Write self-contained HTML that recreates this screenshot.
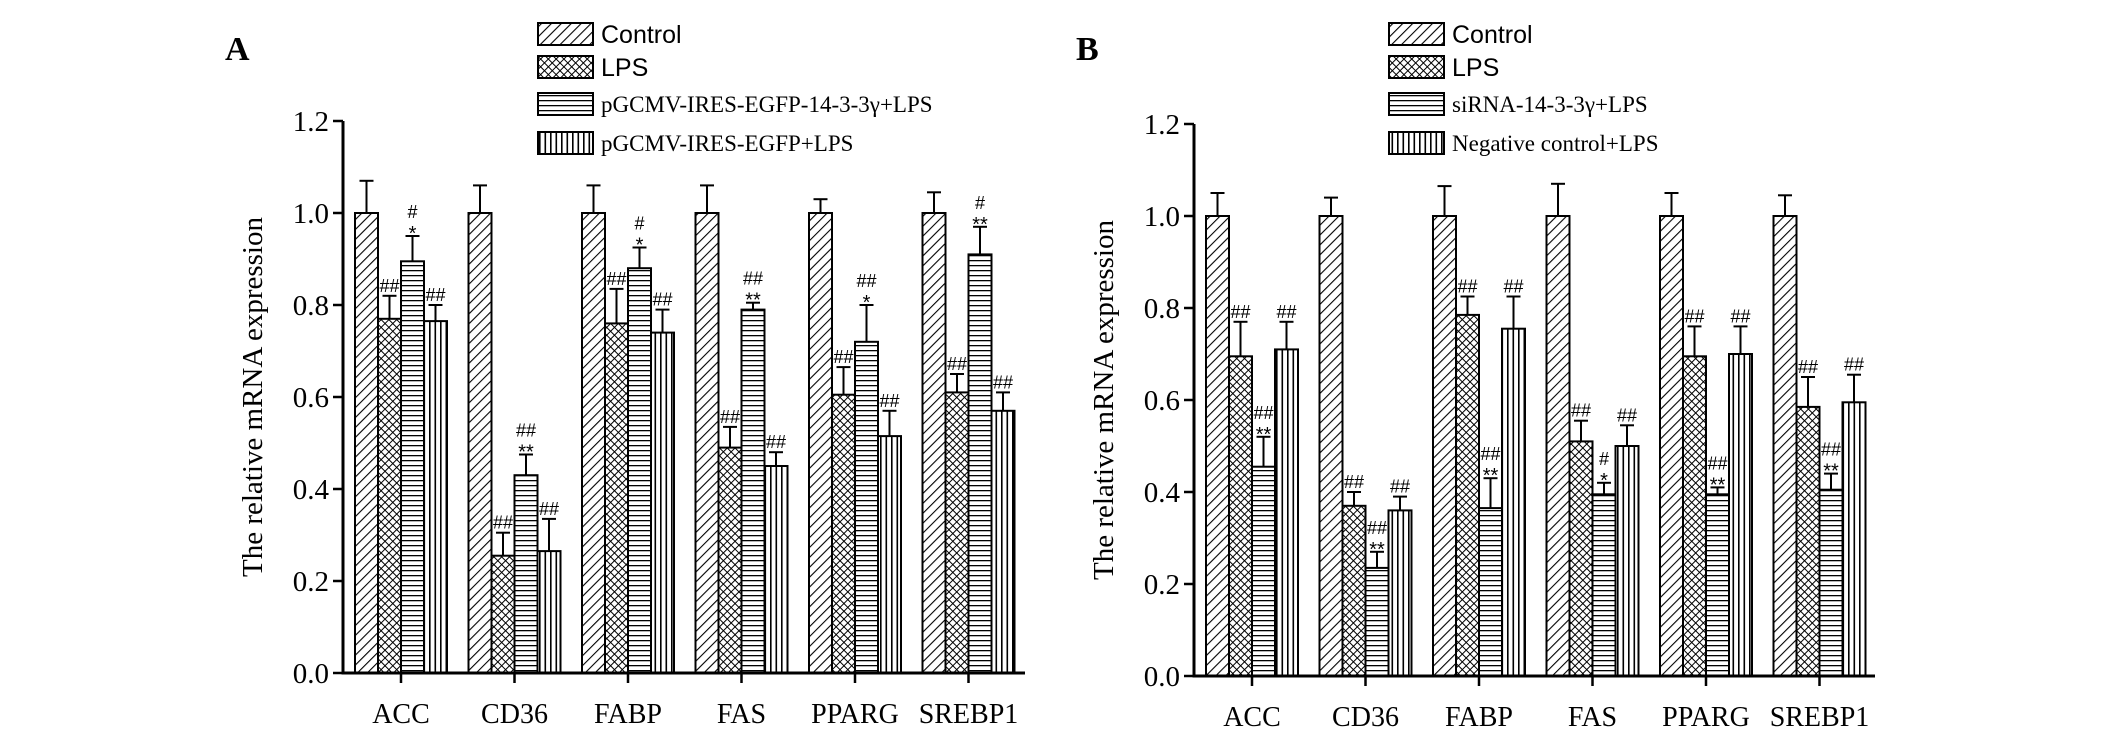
<!DOCTYPE html>
<html><head><meta charset="utf-8"><style>
body{margin:0;background:#fff}
svg{display:block}
.t{font-family:"Liberation Serif",serif;fill:#000}
.s{font-family:"Liberation Sans",sans-serif;fill:#000}
</style></head><body>
<svg id="fig" width="2126" height="731" viewBox="0 0 2126 731" xmlns="http://www.w3.org/2000/svg">
<defs>
<pattern id="p0" patternUnits="userSpaceOnUse" width="7" height="7" patternTransform="rotate(45)"><rect width="7" height="7" fill="#fff"/><line x1="0" y1="0" x2="0" y2="7" stroke="#000" stroke-width="2.2"/></pattern>
<pattern id="p1" patternUnits="userSpaceOnUse" width="5.5" height="5.5" patternTransform="rotate(45)"><rect width="5.5" height="5.5" fill="#fff"/><line x1="0" y1="0" x2="0" y2="5.5" stroke="#000" stroke-width="2"/><line x1="0" y1="0" x2="5.5" y2="0" stroke="#000" stroke-width="2"/></pattern>
<pattern id="p2" patternUnits="userSpaceOnUse" width="5" height="5"><rect width="5" height="5" fill="#fff"/><line x1="0" y1="0.5" x2="5" y2="0.5" stroke="#000" stroke-width="1.6"/></pattern>
<pattern id="p3" patternUnits="userSpaceOnUse" width="5.5" height="5"><rect width="5.5" height="5" fill="#fff"/><line x1="0.8" y1="0" x2="0.8" y2="5" stroke="#000" stroke-width="1.6"/></pattern>
</defs>
</svg>
<script>
const categories = ["ACC","CD36","FABP","FAS","PPARG","SREBP1"];
const yTicks = [0.0,0.2,0.4,0.6,0.8,1.0,1.2];
const legendA = ["Control","LPS","pGCMV-IRES-EGFP-14-3-3γ+LPS","pGCMV-IRES-EGFP+LPS"];
const legendB = ["Control","LPS","siRNA-14-3-3γ+LPS","Negative control+LPS"];
const aControl = [1.0,1.0,1.0,1.0,1.0,1.0];
const aControlErr = [0.07,0.06,0.06,0.06,0.03,0.045];
const aLPS = [0.77,0.255,0.76,0.49,0.605,0.61];
const aLPSErr = [0.05,0.05,0.075,0.045,0.06,0.04];
const aOver = [0.895,0.43,0.88,0.79,0.72,0.91];
const aOverErr = [0.055,0.045,0.045,0.015,0.08,0.06];
const aVec = [0.765,0.265,0.74,0.45,0.515,0.57];
const aVecErr = [0.035,0.07,0.05,0.03,0.055,0.04];
const aOverMark = [["#","*"],["##","**"],["#","*"],["##","**"],["##","*"],["#","**"]];
const bControl = [1.0,1.0,1.0,1.0,1.0,1.0];
const bControlErr = [0.05,0.04,0.065,0.07,0.05,0.045];
const bLPS = [0.695,0.37,0.785,0.51,0.695,0.585];
const bLPSErr = [0.075,0.03,0.04,0.045,0.065,0.065];
const bSi = [0.455,0.235,0.365,0.395,0.395,0.405];
const bSiErr = [0.065,0.035,0.065,0.025,0.015,0.035];
const bNC = [0.71,0.36,0.755,0.5,0.7,0.595];
const bNCErr = [0.06,0.03,0.07,0.045,0.06,0.06];
const bSiMark = [["##","**"],["##","**"],["##","**"],["#","*"],["##","**"],["##","**"]];

const NS="http://www.w3.org/2000/svg";
const svg=document.getElementById('fig');
function el(tag,attrs,parent,text){const e=document.createElementNS(NS,tag);for(const k in attrs)e.setAttribute(k,attrs[k]);if(text!==undefined)e.textContent=text;(parent||svg).appendChild(e);return e;}

function panel(id,letter,x0,y0,xEnd,firstBar,legend,series,errs,marks,markIdx){
  const g=el('g',{});
  
  
  const ppu=460;
  const yS=v=>y0-v*ppu;
  const bw=23, step=113.5;
  const xS=(ci,si)=>firstBar+ci*step+si*bw;
  const L=el('text',{x:x0-118,y:60,'font-size':34,'font-weight':'bold',class:'t'},g,letter);
  
  
  legend.forEach((name,i)=>{
    const cy=[34,67,104,143][i];
    const lg=el('g',{},g);
    
    
    el('rect',{x:x0+195,y:cy-11,width:55,height:22,fill:'url(#p'+i+')',stroke:'#000','stroke-width':2},lg);
    const sans=i<2;
    el('text',{x:x0+258,y:cy+(sans?9:8),'font-size':sans?25:23,class:sans?'s':'t'},lg,name);
  });
  series.forEach((vals,si)=>{
    vals.forEach((v,ci)=>{
      const x=xS(ci,si), top=yS(v), e=errs[si][ci], cx=x+bw/2;
      const b=el('rect',{x:x,y:top,width:bw,height:y0-top,fill:'url(#p'+si+')',stroke:'#000','stroke-width':2},g);
      
      
      const et=yS(v+e);
      el('line',{x1:cx,y1:top,x2:cx,y2:et,stroke:'#000','stroke-width':2},g);
      el('line',{x1:cx-7,y1:et,x2:cx+7,y2:et,stroke:'#000','stroke-width':2},g);
      let lab=null;
      if(si===markIdx) lab=marks[ci];
      else if(si>0) lab=["##"];
      if(lab){
        let yy=et-4;
        for(let k=lab.length-1;k>=0;k--){
          const isStar=lab[k].indexOf('*')>=0;
          el('text',{x:cx,y:isStar?yy+8:yy,'font-size':isStar?20:18,'text-anchor':'middle',class:'s'},g,lab[k]);
          yy-=isStar?14:17;
        }
      }
    });
  });
  const ax=el('path',{d:`M${x0},${yS(1.2)} V${y0} H${xEnd}`,fill:'none',stroke:'#000','stroke-width':3},g);
  
  
  yTicks.forEach(t=>{
    const y=yS(t);
    el('line',{x1:x0-10,y1:y,x2:x0,y2:y,stroke:'#000','stroke-width':2.5},g);
    const tl=el('text',{x:x0-14,y:y+10,'font-size':29,'text-anchor':'end',class:'t'},g,t.toFixed(1));
    
    
  });
  categories.forEach((c,ci)=>{
    const cx=xS(ci,0)+2*bw;
    el('line',{x1:cx,y1:y0,x2:cx,y2:y0+10,stroke:'#000','stroke-width':2.5},g);
    const xl=el('text',{x:cx,y:y0+50,'font-size':28,'text-anchor':'middle',class:'t'},g,c);
    
    
  });
  const yt=el('text',{x:0,y:0,'font-size':29,'text-anchor':'middle',class:'t',transform:`translate(${x0-81},${yS(0.6)}) rotate(-90)`},g,'The relative mRNA expression');
  
  
}
panel('a','A',343,673,1025,355,legendA,[aControl,aLPS,aOver,aVec],[aControlErr,aLPSErr,aOverErr,aVecErr],aOverMark,2);
panel('b','B',1194,676,1875,1206,legendB,[bControl,bLPS,bSi,bNC],[bControlErr,bLPSErr,bSiErr,bNCErr],bSiMark,2);
</script>
</body></html>
